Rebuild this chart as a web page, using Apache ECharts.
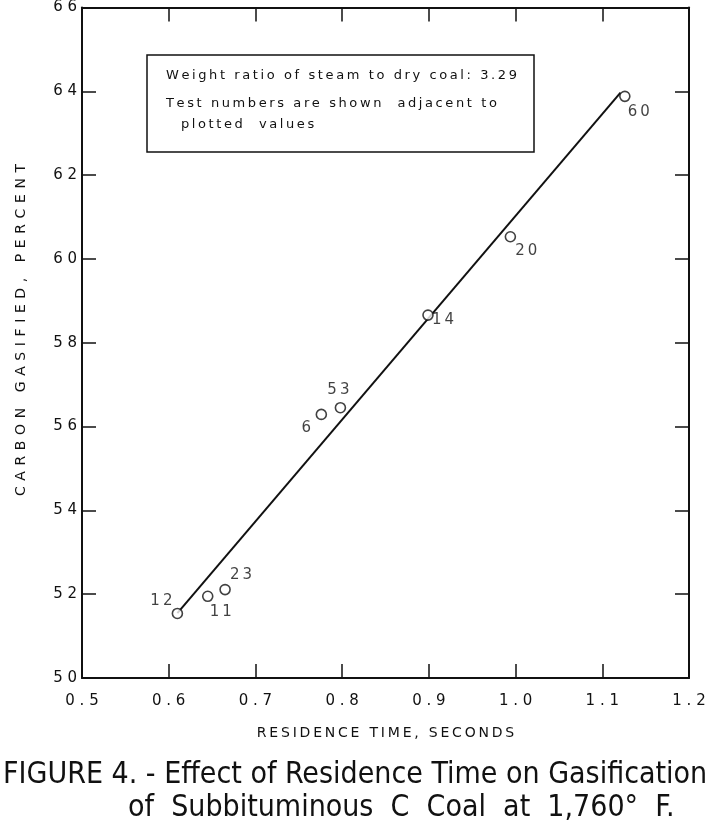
<!DOCTYPE html>
<html><head><meta charset="utf-8">
<script src="https://cdn.jsdelivr.net/npm/echarts@6/dist/echarts.min.js"></script>
<style>html,body{margin:0;padding:0;background:#fff}#c{width:714px;height:831px}</style>
</head><body><div id="c"></div>
<script>
// Data
const testNumbers = ['12', '11', '23', '6', '53', '14', '20', '60'];
const residenceTime = [0.61, 0.645, 0.665, 0.776, 0.798, 0.899, 0.994, 1.126];
const carbonGasified = [51.54, 51.95, 52.11, 56.29, 56.45, 58.66, 60.53, 63.88];
const fitLineX = [0.61, 1.121];
const fitLineY = [51.55, 63.97];
const xTicks = [0.5, 0.6, 0.7, 0.8, 0.9, 1.0, 1.1, 1.2];
const yTicks = [50, 52, 54, 56, 58, 60, 62, 64, 66];

// label placement (style only)
const labelOffset = {
  '12': [-16, -12], '11': [13, 16], '23': [16, -14], '6': [-15, 14],
  '53': [-2, -18], '14': [15, 5], '20': [16, 14], '60': [14, 16]
};

const spaced = (s, sep) => String(s).split('').join(sep || '\u2009');
const FONT = 'DejaVu Sans';
const INK = '#111';
const chart = echarts.init(document.getElementById('c'));

const points = residenceTime.map((x, i) => ({
  value: [x, carbonGasified[i]],
  label: { show: true, formatter: spaced(testNumbers[i]), position: 'inside', offset: labelOffset[testNumbers[i]] }
}));

const axisCommon = {
  type: 'value',
  axisLine: { show: true, lineStyle: { color: INK, width: 2 } },
  axisTick: { show: true, inside: true, length: 14, lineStyle: { color: INK, width: 1.5 } },
  splitLine: { show: false },
};

chart.setOption({
  animation: false,
  backgroundColor: '#fff',
  grid: { left: 82, right: 25, top: 4, bottom: 153, containLabel: false },
  xAxis: [
    Object.assign({}, axisCommon, {
      min: 0.5, max: 1.2, interval: 0.1, position: 'bottom',
      axisLabel: { color: INK, fontFamily: FONT, fontSize: 15, margin: 16, formatter: v => spaced(v.toFixed(1), ' ') },
      name: spaced('RESIDENCE TIME, SECONDS'), nameLocation: 'middle', nameGap: 48,
      nameTextStyle: { color: INK, fontFamily: FONT, fontSize: 14 }
    }),
    Object.assign({}, axisCommon, {
      min: 0.5, max: 1.2, interval: 0.1, position: 'top', axisLabel: { show: false }
    })
  ],
  yAxis: [
    Object.assign({}, axisCommon, {
      min: 50, max: 66, interval: 2, position: 'left',
      axisLabel: { color: INK, fontFamily: FONT, fontSize: 15, margin: 5, formatter: v => spaced(v, ' ') }
    }),
    Object.assign({}, axisCommon, {
      min: 50, max: 66, interval: 2, position: 'right', axisLabel: { show: false }
    })
  ],
  series: [
    {
      type: 'line',
      data: fitLineX.map((x, i) => [x, fitLineY[i]]),
      symbol: 'none',
      lineStyle: { color: INK, width: 2 },
      z: 2
    },
    {
      type: 'scatter',
      data: points,
      symbol: 'circle',
      symbolSize: 10,
      itemStyle: { color: '#fff', borderColor: INK, borderWidth: 1.6 },
      label: { color: INK, fontFamily: FONT, fontSize: 15 },
      z: 3
    }
  ],
  graphic: [
    { type: 'text', x: 21, y: 330, rotation: Math.PI / 2, z: 11,
      style: { text: spaced('CARBON GASIFIED, PERCENT', '\u2009\u2009'), font: '14px "DejaVu Sans"', fill: INK, align: 'center', verticalAlign: 'middle' } },
    { type: 'rect', shape: { x: 147, y: 55, width: 387, height: 97 },
      style: { fill: '#fff', stroke: INK, lineWidth: 1.5 }, z: 10 },
    { type: 'text', x: 166, y: 76, z: 11,
      style: { text: spaced('Weight ratio of steam to dry coal: 3.29'), font: '13px "DejaVu Sans"', fill: INK, verticalAlign: 'middle' } },
    { type: 'text', x: 166, y: 104, z: 11,
      style: { text: spaced('Test numbers are shown  adjacent to'), font: '13px "DejaVu Sans"', fill: INK, verticalAlign: 'middle' } },
    { type: 'text', x: 181, y: 125, z: 11,
      style: { text: spaced('plotted  values'), font: '13px "DejaVu Sans"', fill: INK, verticalAlign: 'middle' } },
    { type: 'text', x: 3, y: 775, z: 11,
      style: { text: 'FIGURE 4. - Effect of Residence Time on Gasification', font: '30px "DejaVu Sans Condensed"', fill: INK, verticalAlign: 'middle' } },
    { type: 'text', x: 128, y: 808, z: 11,
      style: { text: 'of  Subbituminous  C  Coal  at  1,760°  F.', font: '30px "DejaVu Sans Condensed"', fill: INK, verticalAlign: 'middle' } }
  ]
});
</script></body></html>
